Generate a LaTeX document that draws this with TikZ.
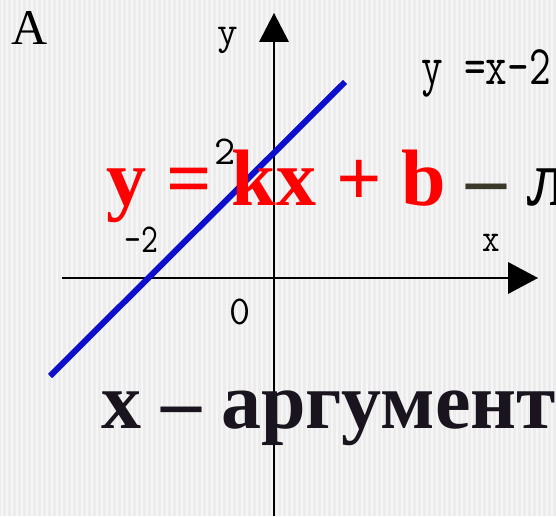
\documentclass[tikz,border=0pt]{standalone}
\usepackage{fontspec}
\setmainfont{Liberation Serif}
\definecolor{bgc}{RGB}{236,236,236}
\definecolor{lineblue}{RGB}{14,14,205}
\definecolor{dashc}{RGB}{58,56,40}
\definecolor{darktext}{RGB}{26,20,30}
\begin{document}
\begin{tikzpicture}[x=1pt,y=-1pt,
  axisline/.style={line width=2.6pt,black},
  tipfill/.style={fill=black},
  graphline/.style={lineblue,line width=6pt},
  lbl/.style={inner sep=0pt,outer sep=0pt,font=\ttfamily},
  bigtxt/.style={inner sep=0pt,outer sep=0pt,anchor=base west,font=\bfseries\fontsize{80}{80}\selectfont}]
\useasboundingbox (0,0) rectangle (556,516);
\clip (0,0) rectangle (556,516);
\fill[bgc] (0,0) rectangle (556,516);
\foreach \i in {2,7,...,556} \draw[white,line width=1.2pt,opacity=0.55] (\i,0) -- (\i,516);
% axes
\coordinate (xs) at (62,278);
\coordinate (xb) at (508,278);
\coordinate (xt) at (538,278);
\coordinate (ys) at (274,516);
\coordinate (yb) at (274,42);
\coordinate (yt) at (274,13);
\draw[axisline] (xs) -- (xb);
\fill[tipfill] (xt) -- ([yshift=-16pt]xb) -- ([yshift=16pt]xb) -- cycle;
\draw[axisline] (ys) -- (yb);
\fill[tipfill] (yt) -- ([xshift=-15pt]yb) -- ([xshift=15pt]yb) -- cycle;
% graph
\coordinate (g1) at (50,376);
\coordinate (g2) at (345,82);
\draw[graphline] (g1) -- (g2);
% labels
\node[inner sep=0pt,font=\fontsize{50}{50}\selectfont] (lA) at (30,28) {A};
\node[lbl] (ly) at (228,40) {\fontsize{40}{40}\selectfont y};
\node[lbl] (lx) at (491,243) {\scalebox{0.85}[1]{\fontsize{40}{40}\selectfont x}};
\node[lbl] (l2) at (225,152) {\fontsize{41}{41}\selectfont 2};
\node[lbl] (lm2) at (141,240) {\scalebox{0.8}[1]{\fontsize{41}{41}\selectfont -2}};
\node[lbl] (l0) at (240,312) {\fontsize{41}{41}\selectfont 0};
\node[lbl,anchor=base west] (leq) at (421,85) {\scalebox{0.75}[1]{\fontsize{56}{56}\selectfont y =x-2}};
% big texts
\node[bigtxt] (t1) at (106,205) {{\color{red}y = kx + b} {\color{dashc}–} л};
\node[bigtxt,text=darktext] (t2) at (101,428) {x – аргумент};
\end{tikzpicture}
\end{document}
